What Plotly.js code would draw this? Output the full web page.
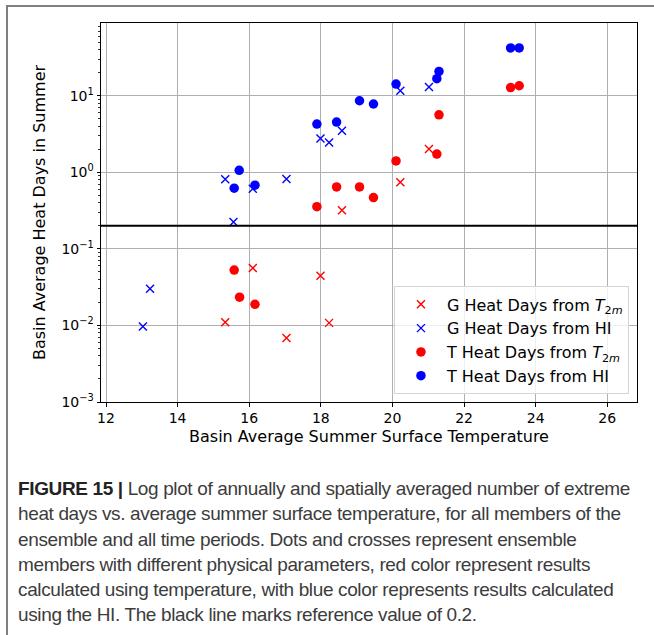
<!DOCTYPE html>
<html>
<head>
<meta charset="utf-8">
<script src="https://cdn.plot.ly/plotly-3.0.1.min.js"></script>
<style>
  html, body { margin: 0; padding: 0; background: #ffffff; }
  #wrap { position: relative; width: 654px; height: 635px; overflow: hidden; background: #fff; }
  #frame { position: absolute; left: 6px; top: 5px; width: 660px; height: 640px;
           border-left: 2px solid #7f7f7f; border-top: 2px solid #7f7f7f; }
  #chart { position: absolute; left: 0; top: 0; width: 654px; height: 635px; }
  #caption { position: absolute; left: 18px; top: 476px; width: 630px;
             font-family: "Liberation Sans", Arial, sans-serif; font-size: 19px;
             line-height: 25.3px; color: #3c3c3c; letter-spacing: -0.37px; white-space: nowrap; }
  #caption b { color: #222; }
</style>
</head>
<body>
<div id="wrap">
  <div id="frame"></div>
  <div id="chart"></div>
  <div id="caption"><b>FIGURE 15 |</b> Log plot of annually and spatially averaged number of extreme<br>heat days vs. average summer surface temperature, for all members of the<br>ensemble and all time periods. Dots and crosses represent ensemble<br>members with different physical parameters, red color represent results<br>calculated using temperature, with blue color represents results calculated<br>using the HI. The black line marks reference value of 0.2.</div>
</div>
<script>
// G ensemble, heat days from T2m (red crosses)
const gT2mX = [15.33, 16.10, 17.04, 17.99, 18.23, 18.59, 20.22, 21.02];
const gT2mY = [0.0110, 0.0561, 0.00686, 0.0445, 0.0108, 0.32, 0.74, 2.02];
// G ensemble, heat days from HI (blue crosses)
const gHIX = [13.03, 13.23, 15.33, 15.56, 16.10, 17.04, 17.99, 18.23, 18.59, 20.22, 21.02];
const gHIY = [0.0097, 0.0301, 0.81, 0.224, 0.61, 0.82, 2.76, 2.45, 3.48, 11.6, 13.0];
// T ensemble, heat days from T2m (red dots)
const tT2mX = [15.58, 15.73, 16.16, 17.89, 18.44, 19.08, 19.47, 20.10, 21.24, 21.30, 23.30, 23.54];
const tT2mY = [0.0528, 0.0234, 0.0189, 0.356, 0.644, 0.644, 0.467, 1.41, 1.73, 5.64, 12.8, 13.5];
// T ensemble, heat days from HI (blue dots)
const tHIX = [15.58, 15.72, 16.16, 17.89, 18.44, 19.08, 19.47, 20.10, 21.24, 21.30, 23.30, 23.54];
const tHIY = [0.62, 1.06, 0.68, 4.27, 4.53, 8.6, 7.8, 14.2, 16.7, 20.8, 42.1, 42.1];

const referenceValue = 0.2;
const xTickVals = [12, 14, 16, 18, 20, 22, 24, 26];
const yTickVals = [0.001, 0.01, 0.1, 1, 10];
const yTickText = ['10<sup>\u22123</sup>', '10<sup>\u22122</sup>', '10<sup>\u22121</sup>', '10<sup>0</sup>', '10<sup>1</sup>'];
const legendNames = [
  'G Heat Days from <i>T</i><sub>2<i>m</i></sub>',
  'G Heat Days from HI',
  'T Heat Days from <i>T</i><sub>2<i>m</i></sub>',
  'T Heat Days from HI'
];

const RED = '#ff0000', BLUE = '#0000ff';
const xMarker = (c) => ({ symbol: 'x-thin-open', size: 8, color: c, line: { color: c, width: 1.4 } });
const dotMarker = (c) => ({ symbol: 'circle', size: 9.5, color: c, line: { width: 0 } });

const traces = [
  { x: gT2mX, y: gT2mY, mode: 'markers', type: 'scatter', name: legendNames[0], marker: xMarker(RED) },
  { x: gHIX, y: gHIY, mode: 'markers', type: 'scatter', name: legendNames[1], marker: xMarker(BLUE) },
  { x: tT2mX, y: tT2mY, mode: 'markers', type: 'scatter', name: legendNames[2], marker: dotMarker(RED) },
  { x: tHIX, y: tHIY, mode: 'markers', type: 'scatter', name: legendNames[3], marker: dotMarker(BLUE) }
];

const FONT = 'DejaVu Sans, sans-serif';
const layout = {
  width: 654, height: 635,
  margin: { l: 101, r: 17, t: 23, b: 233 },
  paper_bgcolor: 'rgba(0,0,0,0)',
  plot_bgcolor: '#ffffff',
  font: { family: FONT, size: 14, color: '#000' },
  showlegend: true,
  legend: {
    x: 0.985, y: 0.02, xanchor: 'right', yanchor: 'bottom',
    bgcolor: 'rgba(255,255,255,0.8)', bordercolor: '#d5d5d5', borderwidth: 1,
    font: { family: FONT, size: 16, color: '#000' },
    tracegroupgap: 0, itemwidth: 42
  },
  xaxis: {
    range: [11.86, 26.83],
    tickmode: 'array', tickvals: xTickVals,
    ticks: 'outside', ticklen: 3.5, tickwidth: 1, tickcolor: '#000',
    showgrid: true, gridcolor: '#b0b0b0', gridwidth: 1,
    showline: true, linecolor: '#000', linewidth: 1, mirror: true,
    zeroline: false,
    tickfont: { family: FONT, size: 14, color: '#000' },
    title: { text: 'Basin Average Summer Surface Temperature', font: { family: FONT, size: 16, color: '#000' }, standoff: 5 }
  },
  yaxis: {
    type: 'log',
    range: [-3.0, 1.95],
    tickmode: 'array', tickvals: yTickVals, ticktext: yTickText,
    ticks: 'outside', ticklen: 3.5, tickwidth: 1, tickcolor: '#000',
    minor: { ticks: 'outside', ticklen: 2, tickcolor: '#000', tickwidth: 0.8, dtick: 'D1', showgrid: false },
    showgrid: true, gridcolor: '#b0b0b0', gridwidth: 1,
    showline: true, linecolor: '#000', linewidth: 1, mirror: true,
    zeroline: false,
    tickfont: { family: FONT, size: 14, color: '#000' },
    title: { text: 'Basin Average Heat Days in Summer', font: { family: FONT, size: 16, color: '#000' }, standoff: 11 }
  },
  shapes: [
    { type: 'line', xref: 'paper', x0: 0, x1: 1, yref: 'y', y0: referenceValue, y1: referenceValue,
      line: { color: '#000', width: 2 }, layer: 'above' }
  ]
};

Plotly.newPlot('chart', traces, layout, { displayModeBar: false, staticPlot: true });
</script>
</body>
</html>
